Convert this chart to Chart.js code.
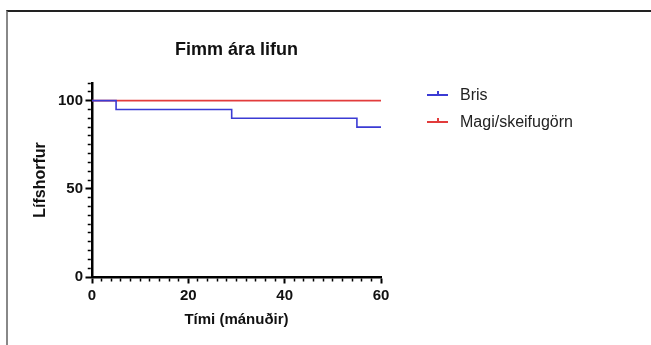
<!DOCTYPE html>
<html>
<head>
<meta charset="utf-8">
<script src="https://cdn.jsdelivr.net/npm/chart.js@4/dist/chart.umd.min.js"></script>
<style>
  body { margin: 0; background: #fff; }
  #wrap { position: relative; width: 651px; height: 345px; overflow: hidden; }
  #frame { position: absolute; left: 6px; top: 10px; right: 0; bottom: 0;
           border-top: 2px solid #222; border-left: 2px solid #888; }
  #myChart { position: absolute; left: 0; top: 0; }
  .leg { position: absolute; left: 427px; font: 16px "Liberation Sans", Arial, sans-serif; color: #222; }
  .leg .ln { position: absolute; left: 0; width: 21px; height: 2px; }
  .leg .tk { position: absolute; left: 10px; width: 2px; height: 4px; }
  .leg .txt { position: absolute; left: 33px; white-space: nowrap; line-height: 18px; }
</style>
</head>
<body>
<div id="wrap">
  <div id="frame"></div>
  <canvas id="myChart" width="651" height="345"></canvas>
  <div id="legend"></div>
</div>
<script>
// survival data (Kaplan-Meier steps)
var seriesNames = ['Bris', 'Magi/skeifugörn'];
var seriesColors = ['#3b3bd4', '#e23c3c'];
var brisTime = [0, 5, 29, 55, 60];
var brisSurv = [100, 95, 90, 85, 85];
var magiTime = [0, 60];
var magiSurv = [100, 100];

var xTickLabels = [0, 20, 40, 60];
var yTickLabels = [0, 50, 100];

function toPoints(xs, ys) {
  return xs.map(function(x, i) { return {x: x, y: ys[i]}; });
}

// html legend
var legendTops = [95, 122];
seriesNames.forEach(function(name, i) {
  var item = document.createElement('div');
  item.className = 'leg';
  item.style.top = legendTops[i] + 'px';
  item.innerHTML = '<span class="ln" style="top:-1px;background:' + seriesColors[i] + '"></span>' +
                   '<span class="tk" style="top:-4px;background:' + seriesColors[i] + '"></span>' +
                   '<span class="txt" style="top:-9px">' + name + '</span>';
  document.getElementById('legend').appendChild(item);
});

var font = '"Liberation Sans", Arial, sans-serif';
Chart.defaults.font.family = font;
Chart.defaults.color = '#111';

// put the chart title over the plot area instead of the whole canvas
var titleOverArea = {
  id: 'titleOverArea',
  afterLayout: function(chart) {
    var t = chart.titleBlock;
    if (t) { t.left = chart.chartArea.left; t.right = chart.chartArea.right; }
  }
};

var TL = 6.5;
function isMajor(v, list) { return list.indexOf(v) >= 0; }

var ctx = document.getElementById('myChart');
var myChart = new Chart(ctx, {
  type: 'line',
  data: {
    datasets: [{
      label: seriesNames[0],
      data: toPoints(brisTime, brisSurv),
      borderColor: seriesColors[0],
      backgroundColor: seriesColors[0],
      borderWidth: 1.6,
      stepped: true,
      pointRadius: 0,
      clip: false
    }, {
      label: seriesNames[1],
      data: toPoints(magiTime, magiSurv),
      borderColor: seriesColors[1],
      backgroundColor: seriesColors[1],
      borderWidth: 1.6,
      stepped: true,
      pointRadius: 0,
      clip: false
    }]
  },
  options: {
    responsive: false,
    animation: false,
    layout: { padding: { left: 0, right: 270, top: 0, bottom: 0 } },
    plugins: {
      legend: { display: false },
      tooltip: { enabled: false },
      title: {
        display: true,
        text: 'Fimm ára lifun',
        color: '#111',
        font: { size: 18, weight: 'bold' },
        padding: { top: 39.7, bottom: 21.7 }
      }
    },
    scales: {
      x: {
        type: 'linear',
        min: 0,
        max: 60,
        afterFit: function(s) { s.height = 68; },
        border: { color: '#000', width: 2.5 },
        grid: {
          drawOnChartArea: false,
          tickLength: TL,
          tickColor: '#000',
          tickWidth: function(c) { return isMajor(c.tick.value, xTickLabels) ? 2 : 1.5; },
          tickBorderDash: function(c) { return isMajor(c.tick.value, xTickLabels) ? [] : [3, 100]; }
        },
        ticks: {
          stepSize: 2,
          autoSkip: false,
          maxRotation: 0,
          padding: 3.5,
          color: '#111',
          font: { size: 15, weight: 'bold' },
          callback: function(v) { return isMajor(v, xTickLabels) ? String(v) : ''; }
        },
        title: {
          display: true,
          text: 'Tími (mánuðir)',
          color: '#111',
          font: { size: 15, weight: 'bold' },
          padding: { top: 0, bottom: 16 }
        }
      },
      y: {
        min: 0,
        max: 110,
        afterFit: function(s) { s.width = 92; },
        border: { color: '#000', width: 2.5 },
        grid: {
          drawOnChartArea: false,
          tickLength: TL,
          tickColor: '#000',
          tickWidth: function(c) { return isMajor(c.tick.value, yTickLabels) ? 2 : 1.5; },
          tickBorderDash: function(c) { return isMajor(c.tick.value, yTickLabels) ? [] : [3, 100]; },
          tickBorderDashOffset: function(c) { return isMajor(c.tick.value, yTickLabels) ? 0 : 100.75; }
        },
        ticks: {
          stepSize: 5,
          autoSkip: false,
          padding: 2.5,
          color: '#111',
          font: { size: 15, weight: 'bold' },
          callback: function(v) { return isMajor(v, yTickLabels) ? String(v) : ''; }
        },
        title: {
          display: true,
          text: 'Lífshorfur',
          color: '#111',
          font: { size: 16, weight: 'bold' },
          padding: { top: 31.4, bottom: 0 }
        }
      }
    }
  },
  plugins: [titleOverArea]
});
</script>
</body>
</html>
